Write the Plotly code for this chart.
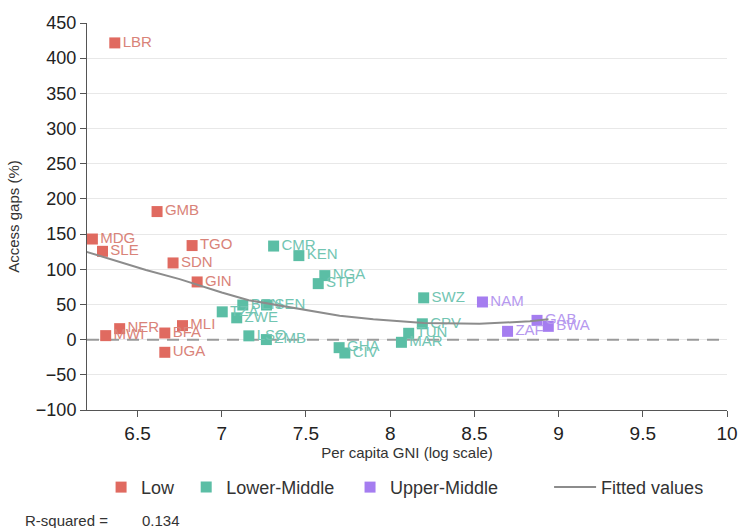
import plotly.graph_objects as go

# Access gaps (%) against log per-capita GNI, grouped by income level
low_codes = ["LBR", "GMB", "MDG", "SLE", "TGO", "SDN", "GIN", "MOZ", "NER", "MWI", "BFA", "MLI", "UGA"]
low_gni = [6.365, 6.616, 6.232, 6.292, 6.824, 6.711, 6.854, 6.195, 6.394, 6.311, 6.662, 6.767, 6.662]
low_gap = [421.7, 182.0, 143.0, 125.5, 133.7, 109.0, 82.0, 58.3, 15.6, 5.7, 9.4, 19.9, -18.0]

lm_codes = ["CMR", "KEN", "NGA", "STP", "TZA", "ZWE", "BEN", "SEN", "LSO", "ZMB",
            "GHA", "CIV", "MAR", "TUN", "CPV", "SWZ"]
lm_gni = [7.308, 7.458, 7.612, 7.573, 7.003, 7.089, 7.125, 7.266, 7.161, 7.265,
          7.697, 7.731, 8.067, 8.110, 8.191, 8.199]
lm_gap = [133.0, 119.4, 91.0, 79.6, 39.5, 31.0, 49.2, 49.2, 5.4, 0.1,
          -11.4, -19.0, -3.8, 9.0, 22.5, 59.4]

um_codes = ["NAM", "ZAF", "GAB", "BWA"]
um_gni = [8.548, 8.697, 8.872, 8.939]
um_gap = [53.5, 11.8, 27.4, 18.9]

# Fitted values of the quadratic trend
fit_x = [6.195, 6.3, 6.55, 6.75, 6.85, 7.0, 7.16, 7.4, 7.52, 7.7, 7.9, 8.06, 8.2, 8.53, 8.67, 8.83, 8.94]
fit_y = [125, 117, 99, 86, 78, 67, 56, 46, 41, 34, 29, 26, 23.5, 22.5, 24, 26, 29]

x_range = [6.2, 10]
x_ticks = [6.5, 7, 7.5, 8, 8.5, 9, 9.5, 10]
x_ticktext = ["6.5", "7", "7.5", "8", "8.5", "9", "9.5", "10"]
y_ticks = list(range(-100, 451, 50))

r_squared = 0.134

groups = [
    ("Low", low_gni, low_gap, low_codes, "#E06A60", "#D98379", "legend"),
    ("Lower-Middle", lm_gni, lm_gap, lm_codes, "#5BBEA5", "#72C5B2", "legend2"),
    ("Upper-Middle", um_gni, um_gap, um_codes, "#A57DF0", "#B698EF", "legend3"),
]

BASE = "Liberation Sans, Arial, sans-serif"

fig = go.Figure()

# dashed reference line at zero gap, spanning the whole x range
fig.add_trace(go.Scatter(
    x=x_range, y=[0, 0], mode="lines", showlegend=False, hoverinfo="skip",
    line=dict(color="#9A9A9A", width=2, dash="12px,8px"),
))

for name, xs, ys, codes, mcol, tcol, leg in groups:
    fig.add_trace(go.Scatter(
        x=xs, y=ys, text=codes, name=name,
        mode="markers+text", textposition="middle right",
        marker=dict(symbol="square", size=11, color=mcol),
        textfont=dict(family=BASE, size=15, color=tcol),
        cliponaxis=False, legend=leg,
    ))

fig.add_trace(go.Scatter(
    x=fit_x, y=fit_y, name="Fitted values", mode="lines",
    line=dict(color="#8C8C8C", width=2), legend="legend4",
))

fig.update_xaxes(
    range=x_range, tickvals=x_ticks, ticktext=x_ticktext,
    showgrid=False, zeroline=False, automargin=False,
    showline=True, linecolor="#555", linewidth=1,
    ticks="outside", ticklen=6, tickcolor="#555",
    ticklabeloverflow="allow",
    tickfont=dict(family=BASE, size=19, color="#222"),
    title=dict(text="Per capita GNI (log scale)", standoff=0,
               font=dict(family=BASE, size=15, color="#333")),
)
fig.update_yaxes(
    range=[-100, 450], tickvals=y_ticks, automargin=False,
    showgrid=True, gridcolor="#E8E8E8", gridwidth=1, zeroline=False,
    showline=True, linecolor="#555", linewidth=1,
    ticks="outside", ticklen=6, tickcolor="#555",
    tickfont=dict(family=BASE, size=18, color="#222"),
    title=dict(text="Access gaps (%)", standoff=12,
               font=dict(family=BASE, size=15, color="#333")),
)

def legend_box(x, itemwidth=30):
    return dict(orientation="h", x=x, xanchor="left", y=-0.2, yanchor="middle",
                itemwidth=itemwidth, font=dict(family=BASE, size=18, color="#333"),
                bgcolor="rgba(0,0,0,0)")

fig.update_layout(
    width=738, height=528,
    margin=dict(l=87, r=11, t=23, b=118, autoexpand=False),
    plot_bgcolor="white", paper_bgcolor="white",
    font=dict(family=BASE, color="#333"),
    showlegend=True,
    legend=legend_box(0.022),
    legend2=legend_box(0.155),
    legend3=legend_box(0.411),
    legend4=legend_box(0.722, itemwidth=42),
    annotations=[
        dict(text="R-squared =", xref="paper", yref="paper", x=-0.1, y=-0.286,
             xanchor="left", yanchor="middle", showarrow=False,
             font=dict(family=BASE, size=15, color="#333")),
        dict(text=f"{r_squared:.3f}", xref="paper", yref="paper", x=0.083, y=-0.286,
             xanchor="left", yanchor="middle", showarrow=False,
             font=dict(family=BASE, size=15, color="#333")),
    ],
)

fig.write_html("out.html")
